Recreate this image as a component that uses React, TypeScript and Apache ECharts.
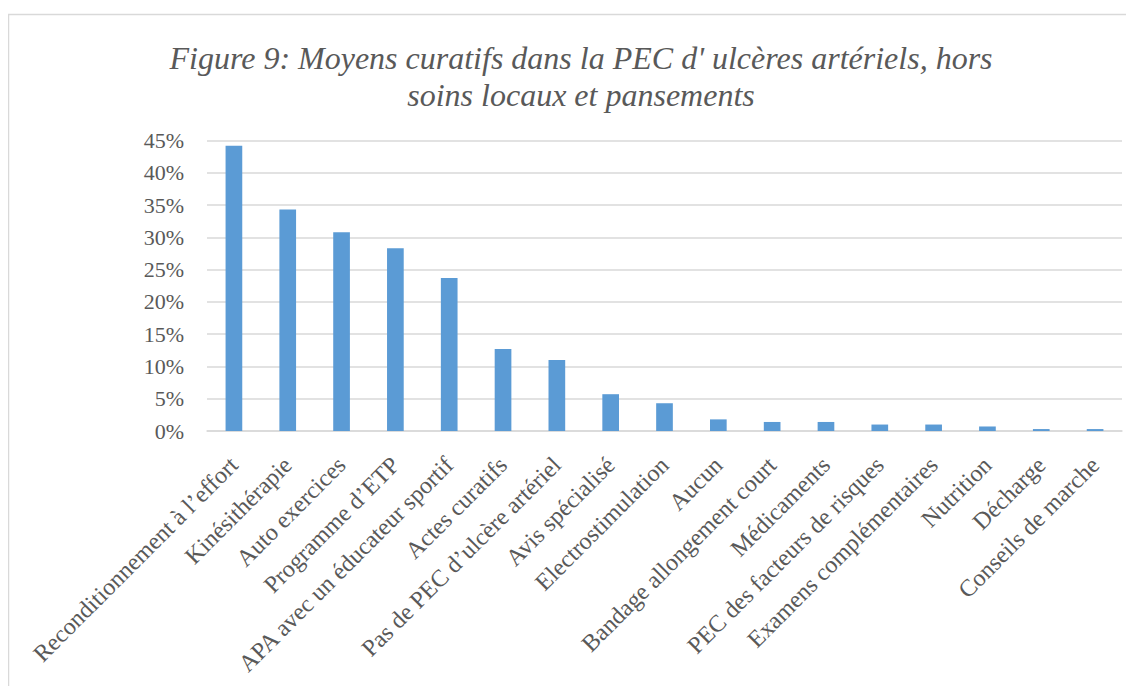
import React, { useEffect, useRef } from "react";
import * as echarts from "echarts";

const categories: string[] = [
  "Reconditionnement à l’effort",
  "Kinésithérapie",
  "Auto exercices",
  "Programme d’ETP",
  "APA avec un éducateur sportif",
  "Actes curatifs",
  "Pas de PEC d’ulcère artériel",
  "Avis spécialisé",
  "Electrostimulation",
  "Aucun",
  "Bandage allongement court",
  "Médicaments",
  "PEC des facteurs de risques",
  "Examens complémentaires",
  "Nutrition",
  "Décharge",
  "Conseils de marche",
];

const values: number[] = [
  44.2, 34.3, 30.8, 28.3, 23.7, 12.7, 11.0, 5.7, 4.3, 1.8, 1.4, 1.4, 1.0, 1.0, 0.7, 0.3, 0.3,
];

const yTicks = { min: 0, max: 45, interval: 5 };

const titleText = "Figure 9: Moyens curatifs dans la PEC d' ulcères artériels, hors\nsoins locaux et pansements";

const FONT = "'Liberation Serif', 'Times New Roman', serif";
const TEXT_COLOR = "#595959";
const GRID_COLOR = "#d9d9d9";

export default function App() {
  const ref = useRef<HTMLDivElement>(null);

  useEffect(() => {
    if (!ref.current) return;
    const chart = echarts.init(ref.current, undefined, { renderer: "svg" });
    chart.setOption({
      animation: false,
      backgroundColor: "#ffffff",
      title: {
        text: titleText,
        left: 568,
        top: 26,
        textAlign: "center",
        textStyle: {
          fontFamily: FONT,
          fontSize: 32,
          fontStyle: "italic",
          fontWeight: "normal",
          color: TEXT_COLOR,
          lineHeight: 37,
        },
      },
      graphic: [
        {
          type: "rect",
          shape: { x: 0.5, y: 6.5, width: 1300, height: 900 },
          style: { fill: "none", stroke: GRID_COLOR, lineWidth: 1.5 },
          silent: true,
        },
      ],
      grid: {
        left: 199,
        right: 12,
        top: 132.5,
        bottom: 255,
        containLabel: false,
      },
      xAxis: {
        type: "category",
        data: categories,
        axisLine: { show: true, lineStyle: { color: GRID_COLOR, width: 1.5 } },
        axisTick: { show: false },
        axisLabel: {
          interval: 0,
          rotate: 45,
          margin: 30,
          fontFamily: FONT,
          fontSize: 24,
          color: TEXT_COLOR,
        },
      },
      yAxis: {
        type: "value",
        min: yTicks.min,
        max: yTicks.max,
        interval: yTicks.interval,
        axisLine: { show: false },
        axisTick: { show: false },
        splitLine: { lineStyle: { color: GRID_COLOR, width: 1.5 } },
        axisLabel: {
          formatter: "{value}%",
          margin: 23,
          fontFamily: FONT,
          fontSize: 22,
          color: TEXT_COLOR,
        },
      },
      series: [
        {
          type: "bar",
          data: values,
          barWidth: "31%",
          itemStyle: { color: "#5b9bd5" },
        },
      ],
    });
    return () => chart.dispose();
  }, []);

  return (
    <div
      ref={ref}
      style={{ width: 1126, height: 678, overflow: "hidden" }}
    />
  );
}
